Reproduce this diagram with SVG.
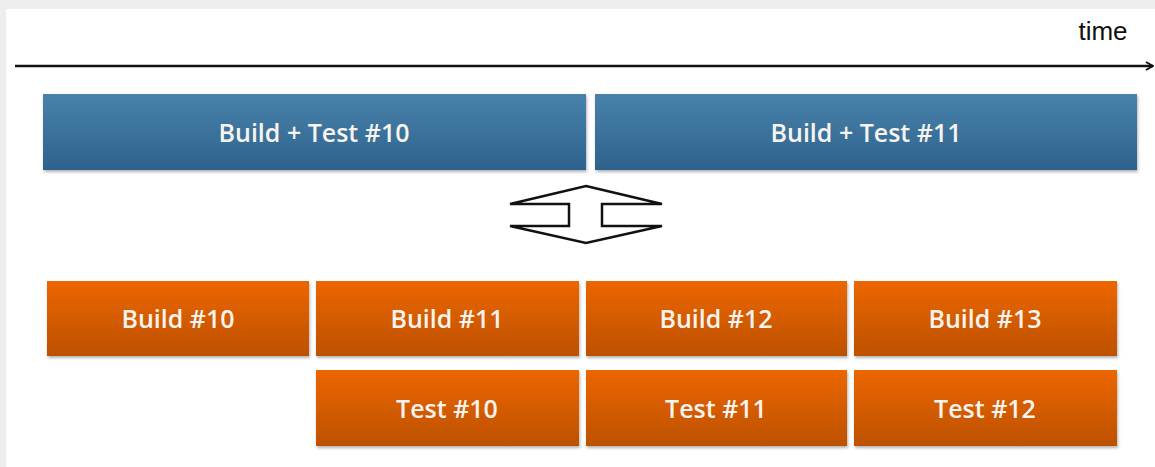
<svg xmlns="http://www.w3.org/2000/svg" width="1155" height="467" viewBox="0 0 1155 467">
<style>
.lbl{font-family:"Open Sans","Liberation Sans",sans-serif;font-weight:600;font-size:25px;fill:#f7f3ef;text-anchor:middle;dominant-baseline:central}
.blue{fill:url(#gb);filter:url(#sh)}
.orange{fill:url(#go);filter:url(#sh)}
</style>
<defs>
<linearGradient id="gb" x1="0" y1="0" x2="0" y2="1"><stop offset="0" stop-color="#4882ab"/><stop offset="1" stop-color="#2e628c"/></linearGradient>
<linearGradient id="go" x1="0" y1="0" x2="0" y2="1"><stop offset="0" stop-color="#ec6605"/><stop offset="1" stop-color="#bd5106"/></linearGradient>
<filter id="sh" x="-5%" y="-10%" width="110%" height="130%"><feDropShadow dx="1" dy="2" stdDeviation="1.5" flood-color="#000" flood-opacity="0.3"/></filter>
<marker id="ah" markerWidth="10" markerHeight="10" refX="9" refY="5" orient="auto" markerUnits="userSpaceOnUse"><path d="M2,1 L9,5 L2,9" fill="none" stroke="#111" stroke-width="2"/></marker>
</defs>
<rect width="1155" height="467" fill="#eeeeee"/>
<rect x="6" y="9" width="1149" height="458" fill="#ffffff"/>
<g id="connectors">
<line x1="15" y1="66" x2="1153" y2="66" stroke="#111" stroke-width="2.6" marker-end="url(#ah)"/>
</g>
<g id="time-label"><text x="1103" y="31" font-family="'Liberation Sans',Arial,sans-serif" font-size="26" fill="#111" text-anchor="middle" dominant-baseline="central">time</text></g>
<g id="bt10"><rect class="blue" x="43" y="94" width="543" height="76"/><text class="lbl" x="314" y="132">Build + Test #10</text></g>
<g id="bt11"><rect class="blue" x="595" y="94" width="542" height="76"/><text class="lbl" x="866" y="132">Build + Test #11</text></g>
<g id="swap"><polygon points="586,186 662,204 602,204 602,226 662,226 586,243 510,226 569,226 569,204 510,204" fill="#fff" stroke="#111" stroke-width="2.5" stroke-linejoin="miter"/></g>
<g id="b10"><rect class="orange" x="47" y="281" width="262" height="75"/><text class="lbl" x="178" y="318">Build #10</text></g>
<g id="b11"><rect class="orange" x="316" y="281" width="263" height="75"/><text class="lbl" x="447" y="318">Build #11</text></g>
<g id="b12"><rect class="orange" x="586" y="281" width="261" height="75"/><text class="lbl" x="716" y="318">Build #12</text></g>
<g id="b13"><rect class="orange" x="854" y="281" width="263" height="75"/><text class="lbl" x="985" y="318">Build #13</text></g>
<g id="t10"><rect class="orange" x="316" y="370" width="263" height="76"/><text class="lbl" x="447" y="408">Test #10</text></g>
<g id="t11"><rect class="orange" x="586" y="370" width="261" height="76"/><text class="lbl" x="716" y="408">Test #11</text></g>
<g id="t12"><rect class="orange" x="854" y="370" width="263" height="76"/><text class="lbl" x="985" y="408">Test #12</text></g>
</svg>
